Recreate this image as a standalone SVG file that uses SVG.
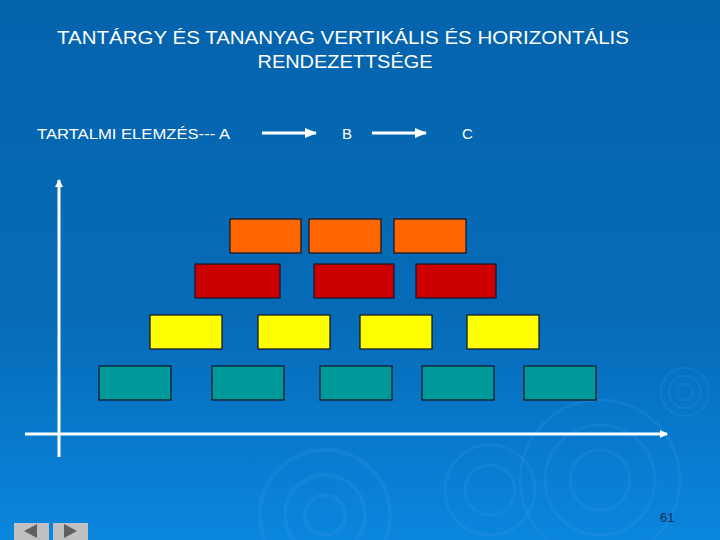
<svg xmlns="http://www.w3.org/2000/svg" width="720" height="540" viewBox="0 0 720 540">
<defs>
<linearGradient id="bg" x1="0" y1="0" x2="0" y2="1">
<stop offset="0" stop-color="#0563ac"/>
<stop offset="0.6" stop-color="#066cb8"/>
<stop offset="1" stop-color="#0a86de"/>
</linearGradient>
<marker id="ah" markerWidth="8" markerHeight="8" refX="7" refY="4" orient="auto" markerUnits="userSpaceOnUse">
<path d="M0,0 L8,4 L0,8 z" fill="#fff"/>
</marker>
<marker id="ah2" markerWidth="12" markerHeight="10" refX="11" refY="5" orient="auto" markerUnits="userSpaceOnUse">
<path d="M0,0 L12,5 L0,10 z" fill="#fff"/>
</marker>
</defs>
<style>
.t{font-family:"Liberation Sans",Arial,sans-serif;fill:#fff}
.box{stroke:#1a1a2a;stroke-width:1.3}
.o{fill:#ff6600}.r{fill:#cc0000}.y{fill:#ffff00}.g{fill:#009999}
.rip{fill:none;stroke:#3a9ae6;stroke-opacity:0.2}
</style>
<rect width="720" height="540" fill="url(#bg)"/>
<g id="ripples">
<circle class="rip" cx="685" cy="392" r="8" stroke-width="2"/>
<circle class="rip" cx="685" cy="392" r="16" stroke-width="2"/>
<circle class="rip" cx="685" cy="392" r="24" stroke-width="2"/>
<circle class="rip" cx="600" cy="480" r="30" stroke-width="3"/>
<circle class="rip" cx="600" cy="480" r="55" stroke-width="3"/>
<circle class="rip" cx="600" cy="480" r="80" stroke-width="3"/>
<circle class="rip" cx="325" cy="515" r="20" stroke-width="4"/>
<circle class="rip" cx="325" cy="515" r="40" stroke-width="4"/>
<circle class="rip" cx="325" cy="515" r="65" stroke-width="4"/>
<circle class="rip" cx="490" cy="490" r="25" stroke-width="3"/>
<circle class="rip" cx="490" cy="490" r="45" stroke-width="3"/>
</g>
<g id="title">
<text class="t" x="343" y="44" font-size="18" text-anchor="middle" textLength="572" lengthAdjust="spacingAndGlyphs">TANTÁRGY ÉS TANANYAG VERTIKÁLIS ÉS HORIZONTÁLIS</text>
<text class="t" x="345" y="68" font-size="18" text-anchor="middle" textLength="175" lengthAdjust="spacingAndGlyphs">RENDEZETTSÉGE</text>
</g>
<g id="labels">
<text class="t" x="37" y="139" font-size="15" textLength="193" lengthAdjust="spacingAndGlyphs">TARTALMI ELEMZÉS--- A</text>
<text class="t" x="342" y="139" font-size="15">B</text>
<text class="t" x="462" y="139" font-size="15">C</text>
</g>
<g id="connectors">
<line x1="262" y1="133" x2="316" y2="133" stroke="#fff" stroke-width="3" marker-end="url(#ah2)"/>
<line x1="372" y1="133" x2="426" y2="133" stroke="#fff" stroke-width="3" marker-end="url(#ah2)"/>
<line x1="59" y1="457" x2="59" y2="180" stroke="#fff" stroke-width="3" marker-end="url(#ah)"/>
<line x1="25" y1="434" x2="667" y2="434" stroke="#fff" stroke-width="3" marker-end="url(#ah)"/>
</g>
<g id="row-orange">
<rect id="o1" class="box o" x="230" y="219" width="71" height="34"/>
<rect id="o2" class="box o" x="309" y="219" width="72" height="34"/>
<rect id="o3" class="box o" x="394" y="219" width="72" height="34"/>
</g>
<g id="row-red">
<rect id="r1" class="box r" x="195" y="264" width="85" height="34"/>
<rect id="r2" class="box r" x="314" y="264" width="80" height="34"/>
<rect id="r3" class="box r" x="416" y="264" width="80" height="34"/>
</g>
<g id="row-yellow">
<rect id="y1" class="box y" x="150" y="315" width="72" height="34"/>
<rect id="y2" class="box y" x="258" y="315" width="72" height="34"/>
<rect id="y3" class="box y" x="360" y="315" width="72" height="34"/>
<rect id="y4" class="box y" x="467" y="315" width="72" height="34"/>
</g>
<g id="row-teal">
<rect id="g1" class="box g" x="99" y="366" width="72" height="34"/>
<rect id="g2" class="box g" x="212" y="366" width="72" height="34"/>
<rect id="g3" class="box g" x="320" y="366" width="72" height="34"/>
<rect id="g4" class="box g" x="422" y="366" width="72" height="34"/>
<rect id="g5" class="box g" x="524" y="366" width="72" height="34"/>
</g>
<g id="nav">
<rect x="14" y="523" width="35" height="17" fill="#c0c0c0"/>
<path d="M24,531 L37,524 L37,538 z" fill="#606060"/>
<rect x="53" y="523" width="35" height="17" fill="#c0c0c0"/>
<path d="M77,531 L64,524 L64,538 z" fill="#606060"/>
</g>
<text x="660" y="522" font-size="13" font-family="Liberation Sans,Arial,sans-serif" fill="#1a2a5a">61</text>
</svg>
